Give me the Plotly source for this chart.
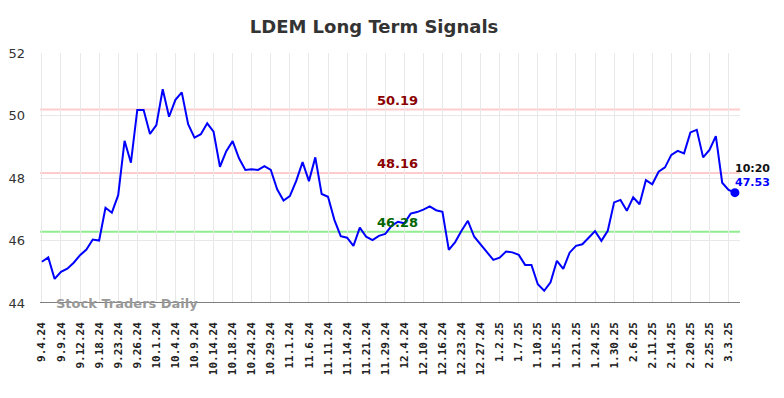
import plotly.graph_objects as go

values = [
    45.32, 45.46, 44.77, 45.00, 45.10, 45.29, 45.53, 45.71, 46.03, 46.00,
    47.05, 46.89, 47.45, 49.19, 48.49, 50.18, 50.18, 49.41, 49.69, 50.84,
    49.96, 50.50, 50.74, 49.72, 49.29, 49.40, 49.75, 49.48, 48.36, 48.86,
    49.18, 48.63, 48.26, 48.28, 48.26, 48.38, 48.26, 47.64, 47.28, 47.42,
    47.91, 48.51, 47.90, 48.66, 47.49, 47.40, 46.66, 46.14, 46.09, 45.83,
    46.41, 46.12, 46.01, 46.15, 46.21, 46.47, 46.60, 46.55, 46.86, 46.91,
    46.99, 47.09, 46.97, 46.92, 45.70, 45.95, 46.31, 46.63, 46.12, 45.87,
    45.62, 45.38, 45.45, 45.65, 45.62, 45.54, 45.22, 45.22, 44.60, 44.39,
    44.66, 45.35, 45.09, 45.61, 45.83, 45.88, 46.09, 46.30, 45.99, 46.31,
    47.22, 47.30, 46.95, 47.38, 47.16, 47.93, 47.80, 48.20, 48.34, 48.74,
    48.87, 48.79, 49.46, 49.54, 48.66, 48.90, 49.34, 47.85, 47.62, 47.53,
]
tick_labels = [
    "9.4.24", "9.9.24", "9.12.24", "9.18.24", "9.23.24", "9.26.24", "10.1.24",
    "10.4.24", "10.9.24", "10.14.24", "10.18.24", "10.24.24", "10.29.24",
    "11.1.24", "11.6.24", "11.11.24", "11.14.24", "11.21.24", "11.29.24",
    "12.4.24", "12.10.24", "12.16.24", "12.23.24", "12.27.24", "1.2.25",
    "1.7.25", "1.10.25", "1.15.25", "1.21.25", "1.24.25", "1.30.25", "2.6.25",
    "2.11.25", "2.14.25", "2.20.25", "2.25.25", "3.3.25",
]
resistance_hi = 50.19
resistance_lo = 48.16
support = 46.28
last_time = "10:20"
last_value = 47.53
title = "LDEM Long Term Signals"
watermark = "Stock Traders Daily"

x = list(range(len(values)))
tick_step = 3
tickvals = [i * tick_step for i in range(len(tick_labels))]

W, H = 776, 390  # page body has an 8px margin

fig = go.Figure()
fig.add_trace(go.Scatter(x=x, y=values, mode="lines",
                         line=dict(color="#0000ff", width=2), hoverinfo="skip"))
fig.add_trace(go.Scatter(x=[x[-1]], y=[last_value], mode="markers",
                         marker=dict(color="#0000ff", size=9), hoverinfo="skip"))

for lvl, col in [(resistance_hi, "#ffcccc"), (resistance_lo, "#ffcccc"), (support, "#90ee90")]:
    fig.add_shape(type="line", xref="paper", x0=0, x1=1, yref="y", y0=lvl, y1=lvl,
                  line=dict(color=col, width=2), layer="below")

mid = 56
for lvl, col in [(resistance_hi, "#8b0000"), (resistance_lo, "#8b0000"), (support, "#006400")]:
    fig.add_annotation(x=mid, y=lvl, text=f"<b>{lvl:.2f}</b>", showarrow=False,
                       xanchor="center", yanchor="bottom", yshift=0,
                       font=dict(family="DejaVu Sans", size=13, color=col))

fig.add_annotation(x=x[-1], y=last_value, text=f"<b>{last_time}</b>", showarrow=False,
                   xanchor="left", yanchor="middle", xshift=-2, yshift=24,
                   font=dict(family="DejaVu Sans", size=11, color="#111111"))
fig.add_annotation(x=x[-1], y=last_value, text=f"<b>{last_value:.2f}</b>", showarrow=False,
                   xanchor="left", yanchor="middle", xshift=-2, yshift=10,
                   font=dict(family="DejaVu Sans", size=11, color="#0000ff"))

fig.add_annotation(xref="paper", yref="paper", x=0.02, y=0.0, text=f"<b>{watermark}</b>",
                   showarrow=False, xanchor="left", yanchor="middle",
                   font=dict(family="DejaVu Sans", size=13, color="#999999"))

fig.update_layout(
    width=W, height=H,
    margin=dict(l=32, r=44, t=45, b=95, autoexpand=False),
    paper_bgcolor="white", plot_bgcolor="white",
    showlegend=False,
    title=dict(text=f"<b>{title}</b>", x=366 / W, xanchor="center", y=1 - 19 / H,
               yanchor="middle", font=dict(family="DejaVu Sans", size=18, color="#333333")),
    xaxis=dict(range=[-0.3, 109.8], tickmode="array", tickvals=tickvals, ticktext=tick_labels,
               tickangle=-90, showgrid=True, gridcolor="#e8e8e8", gridwidth=1,
               zeroline=False, showline=False, ticks="", ticklabelstandoff=16, automargin=False,
               tickfont=dict(family="DejaVu Sans Mono", size=11, color="#222222", weight="bold")),
    yaxis=dict(range=[44, 52], tickvals=[44, 46, 48, 50, 52], showgrid=True,
               gridcolor="#e8e8e8", gridwidth=1, zeroline=False, showline=False, ticks="",
               ticklabelstandoff=14, automargin=False,
               tickfont=dict(family="DejaVu Sans", size=13, color="#333333")),
)
fig.add_shape(type="line", xref="paper", x0=0, x1=1, yref="y", y0=44, y1=44,
              line=dict(color="#555555", width=1.5))

fig.write_html("out.html")
